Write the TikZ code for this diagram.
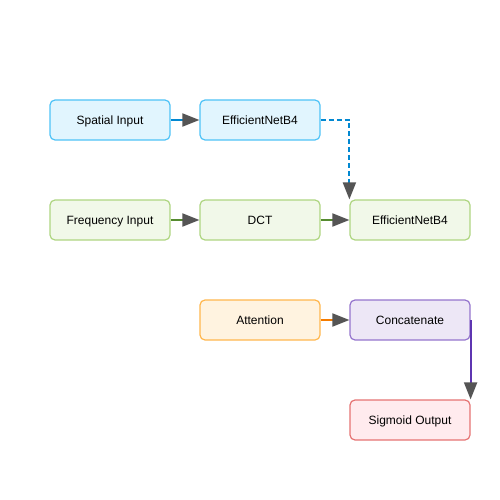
\documentclass[tikz,border=0pt]{standalone}
\usepackage{fontspec}
\setmainfont{Liberation Sans}
\usetikzlibrary{arrows.meta}
\definecolor{bfill}{HTML}{E1F5FE}\definecolor{bdraw}{HTML}{4FC3F7}\definecolor{bline}{HTML}{0288D1}
\definecolor{gfill}{HTML}{F1F8E9}\definecolor{gdraw}{HTML}{AED581}\definecolor{gline}{HTML}{558B2F}
\definecolor{ofill}{HTML}{FFF3E0}\definecolor{odraw}{HTML}{FFB74D}\definecolor{oline}{HTML}{F57C00}
\definecolor{pfill}{HTML}{EDE7F6}\definecolor{pdraw}{HTML}{9575CD}\definecolor{pline}{HTML}{5E35B1}
\definecolor{rfill}{HTML}{FFEBEE}\definecolor{rdraw}{HTML}{E57373}
\definecolor{tipcol}{HTML}{555555}
\tikzset{
  box/.style={rectangle, rounded corners=5pt, minimum width=120pt, minimum height=40pt, line width=1.2pt, font=\fontsize{12pt}{14pt}\selectfont, inner sep=0pt, text height=9pt, text depth=0pt},
  bluebox/.style={box, fill=bfill, draw=bdraw},
  greenbox/.style={box, fill=gfill, draw=gdraw},
  orangebox/.style={box, fill=ofill, draw=odraw},
  purplebox/.style={box, fill=pfill, draw=pdraw},
  redbox/.style={box, fill=rfill, draw=rdraw},
  conn/.style={line width=2pt, -{Triangle[length=17pt,width=13pt,fill=tipcol,color=tipcol]}},
}
\begin{document}
\begin{tikzpicture}[x=1pt,y=-1pt]
\useasboundingbox (0,0) rectangle (500,500);
\node[bluebox] (sp) at (110,120) {Spatial Input};
\node[bluebox] (eb1) at (260,120) {EfficientNetB4};
\node[greenbox] (fr) at (110,220) {Frequency Input};
\node[greenbox] (dct) at (260,220) {DCT};
\node[greenbox] (eb2) at (410,220) {EfficientNetB4};
\node[orangebox] (att) at (260,320) {Attention};
\node[purplebox] (cat) at (410,320) {Concatenate};
\node[redbox] (sig) at (410,420) {Sigmoid Output};
\draw[conn, bline] (sp) -- (eb1);
\draw[conn, bline, dash pattern=on 5pt off 3pt] (eb1.east) -| (eb2.north west);
\draw[conn, gline] (fr) -- (dct);
\draw[conn, gline] (dct) -- (eb2.west);
\draw[conn, oline] (att) -- (cat);
\draw[conn, pline] (cat.east) -- (sig.north east);
\end{tikzpicture}
\end{document}
